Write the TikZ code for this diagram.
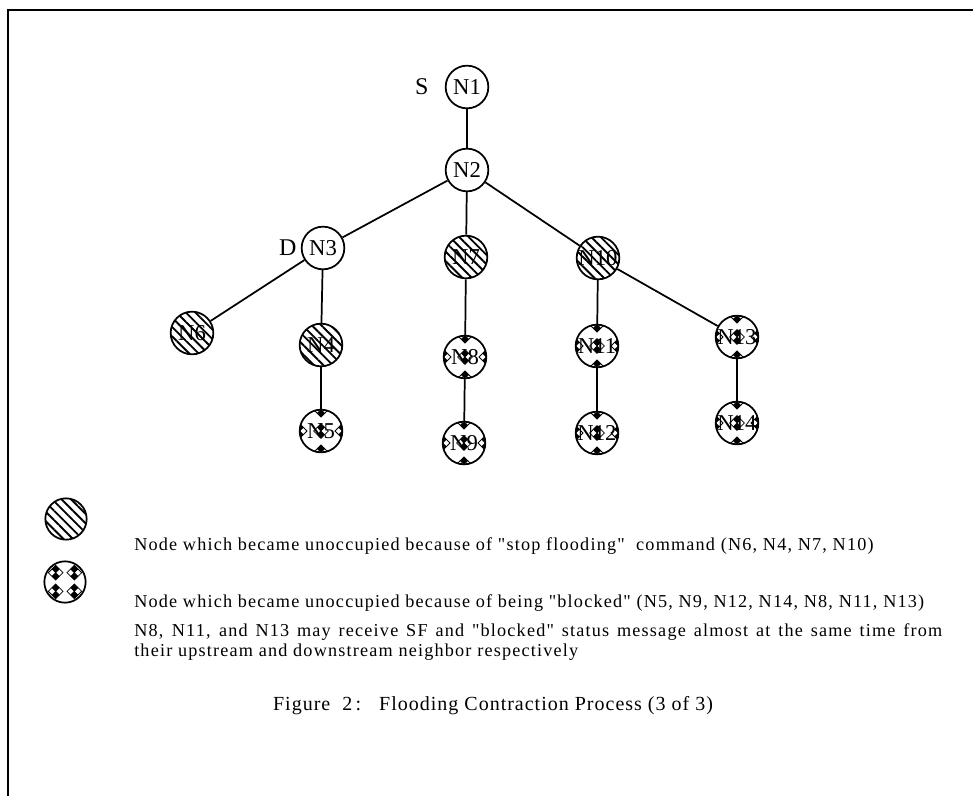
\documentclass[tikz,border=0pt]{standalone}
\usepackage{fontspec}
\setmainfont{Liberation Serif}
\newfontfamily\notefont[LetterSpace=6.5]{Liberation Serif}
\newfontfamily\capfont[LetterSpace=5]{Liberation Serif}
\usetikzlibrary{positioning,patterns.meta}

% small checkered diamond used for the "blocked" fill
\newcommand{\blockmark}[1]{%
  \draw[line width=0.6pt] (#1) +(-5.5pt,0) -- +(0,5.5pt) -- +(5.5pt,0) -- +(0,-5.5pt) -- cycle;
  \fill (#1) +(0,5.5pt) -- +(2.75pt,2.75pt) -- +(0,0) -- +(-2.75pt,2.75pt) -- cycle;
  \fill (#1) +(0,-5.5pt) -- +(2.75pt,-2.75pt) -- +(0,0) -- +(-2.75pt,-2.75pt) -- cycle;
  \draw[line width=0.5pt] (#1) +(-2.75pt,2.75pt) -- +(2.75pt,-2.75pt) (#1) +(2.75pt,2.75pt) -- +(-2.75pt,-2.75pt);
}

\begin{document}
\begin{tikzpicture}[x=0.75pt,y=-0.75pt,
        station/.style={circle, draw, line width=1.3pt, minimum size=32pt, inner sep=0pt, font=\fontsize{17}{17}\selectfont},
        stopped/.style={station, pattern={Lines[angle=-45,distance=5pt,line width=1.4pt]}},
        blocked/.style={station, path picture={
            \foreach \dx/\dy in {0/0, 0/16, 0/-16, 16/0, -16/0}
              {\blockmark{[shift={(\dx pt,\dy pt)}]path picture bounding box.center}}}},
        blockedkey/.style={station, path picture={
            \foreach \dx/\dy in {-7/7, 7/7, -7/-7, 7/-7}
              {\blockmark{[shift={(\dx pt,\dy pt)}]path picture bounding box.center}}}},
        tag/.style={font=\fontsize{18}{18}\selectfont, inner sep=0pt},
        note/.style={anchor=west, inner sep=0pt, font=\notefont\fontsize{13.65}{15}\selectfont},
        link/.style={line width=1.3pt}
    ]
    \useasboundingbox (0,0) rectangle (973,796);

    % frame
    \draw[line width=1.6pt] (973,10) -- (8,10) -- (8,796);

    % tree nodes
    \node[station] (n1) at (467,87) {N1};
    \node[station] (n2) at (467,170) {N2};
    \node[station] (n3) at (323,248) {N3};
    \node[stopped] (n7) at (466,257) {N7};
    \node[stopped] (n10) at (598,258) {N10};
    \node[stopped] (n6) at (192,333) {N6};
    \node[stopped] (n4) at (321,345) {N4};
    \node[blocked] (n5) at (321,431) {N5};
    \node[blocked] (n8) at (465,357) {N8};
    \node[blocked] (n9) at (464,443) {N9};
    \node[blocked] (n11) at (597,346) {N11};
    \node[blocked] (n12) at (597,433) {N12};
    \node[blocked] (n13) at (737,337) {N13};
    \node[blocked] (n14) at (737,423) {N14};

    \node[tag, left=12pt of n1] (src) {S};
    \node[tag, left=3pt of n3] (dst) {D};

    % links
    \draw[link] (n1) -- (n2);
    \draw[link] (n2) -- (n3);
    \draw[link] (n2) -- (n7);
    \draw[link] (n2) -- (n10);
    \draw[link] (n3) -- (n6);
    \draw[link] (n3) -- (n4);
    \draw[link] (n4) -- (n5);
    \draw[link] (n7) -- (n8);
    \draw[link] (n8) -- (n9);
    \draw[link] (n10) -- (n11);
    \draw[link] (n11) -- (n12);
    \draw[link] (n10) -- (n13);
    \draw[link] (n13) -- (n14);

    % legend
    \node[stopped, minimum size=31pt] (keystop) at (66,519) {};
    \node[note] (stoptext) at (134,546) {Node which became unoccupied because of "stop flooding"\ \ command (N6, N4, N7, N10)};
    \node[blockedkey, minimum size=31pt] (keyblock) at (65,582) {};
    \node[note] (blocktext) at (134,603) {Node which became unoccupied because of being "blocked" (N5, N9, N12, N14, N8, N11, N13)};
    \node[note, anchor=north west, text width=606pt, align=justify] (remark) at (134,623)
        {N8, N11, and N13 may receive SF and "blocked" status message almost at the same time from\linebreak their upstream and downstream neighbor respectively};

    \node[font=\capfont\fontsize{15}{17}\selectfont, inner sep=0pt] (caption) at (493,706)
        {Figure\ \ 2\,:\ \ \ Flooding Contraction Process (3 of 3)};
\end{tikzpicture}
\end{document}
